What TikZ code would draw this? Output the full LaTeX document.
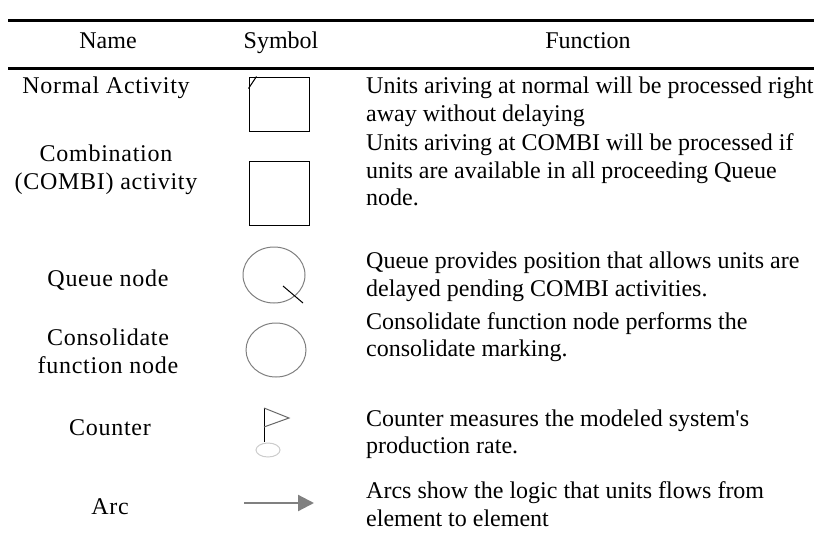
\documentclass[tikz,border=0pt]{standalone}
\usepackage{fontspec}
\setmainfont{Liberation Serif}
\usetikzlibrary{arrows.meta, positioning, shapes.geometric}
\tikzset{
    texto/.style={font=\fontsize{24}{27.5}\selectfont, inner sep=0pt},
    colhead/.style={texto, anchor=base},
    cellname/.style={texto, align=center, font=\fontsize{24}{28}\selectfont\addfontfeature{LetterSpace=3}},
    celldesc/.style={texto, align=left, anchor=west},
    tablerule/.style={line width=3pt},
    activity/.style={rectangle, draw=black, line width=1pt, minimum width=60pt, minimum height=54pt},
    %activity/.style={rectangle, draw, minimum size=60pt},
    queue/.style={ellipse, draw=gray, line width=1pt, minimum width=62pt, minimum height=56pt},
    counterbase/.style={ellipse, draw=gray!40, line width=1pt, minimum width=24pt, minimum height=14pt},
    flow/.style={draw=gray, line width=2.2pt, -{Triangle[length=16pt, width=16pt]}}
}

\begin{document}
\begin{tikzpicture}[x=1pt, y=-1pt]
        \useasboundingbox (0,0) rectangle (814,536);

        % Linhas da tabela
        \draw[tablerule] (8,20) -- (814,20);
        \draw[tablerule] (8,68) -- (814,68);

        % Cabecalho
        \node (h_name) [colhead] at (108,48) {Name};
        \node (h_symbol) [colhead] at (281,48) {Symbol};
        \node (h_function) [colhead] at (588,48) {Function};

        % Coluna dos nomes
        \node (n_normal) [cellname] at (106,88) {Normal Activity};
        \node (n_combi) [cellname] at (106,170) {Combination\\(COMBI) activity};
        \node (n_queue) [cellname] at (108,280) {Queue node};
        \node (n_cons) [cellname] at (108,351) {Consolidate\\function node};
        \node (n_counter) [cellname] at (110,428) {Counter};
        \node (n_arc) [cellname] at (110,507) {Arc};

        % Coluna das funcoes
        \node (f_normal) [celldesc] at (366,102) {Units ariving at normal will be processed right\\away without delaying};
        \node (f_combi) [celldesc] at (366,170) {Units ariving at COMBI will be processed if\\units are available in all proceeding Queue\\node.};
        \node (f_queue) [celldesc] at (366,277) {Queue provides position that allows units are\\delayed pending COMBI activities.};
        \node (f_cons) [celldesc] at (366,337) {Consolidate function node performs the\\consolidate marking.};
        \node (f_counter) [celldesc] at (366,434) {Counter measures the modeled system\textquotesingle s\\production rate.};
        \node (f_arc) [celldesc] at (366,504) {Arcs show the logic that units flows from\\element to element};

        % Simbolos
        \node (s_normal) [activity] at (279,104) {};
        \draw[line width=1pt] ([yshift=-12pt]s_normal.north west) -- ([xshift=8pt]s_normal.north west);
        \node (s_combi) [activity, minimum height=64pt] at (279,193) {};

        \node (s_queue) [queue] at (274,275) {};
        \draw[line width=1pt] (s_queue.center) ++(9,11) -- ++(20,17);

        \node (s_cons) [queue, minimum width=60pt, minimum height=54pt] at (276,350) {};

        \coordinate (mastro) at (264,408);
        \draw[line width=1pt] (mastro) -- ++(0,34);
        \draw[line width=1pt, draw=gray!80!black] (mastro) -- ++(25,10) -- ++(-25,9);
        \node (s_counter) [counterbase] at (268,450) {};

        \coordinate (arc_ini) at (244,503);
        \coordinate (arc_fim) at (314,503);
        \draw[flow] (arc_ini) -- (arc_fim);

    \end{tikzpicture}
\end{document}
